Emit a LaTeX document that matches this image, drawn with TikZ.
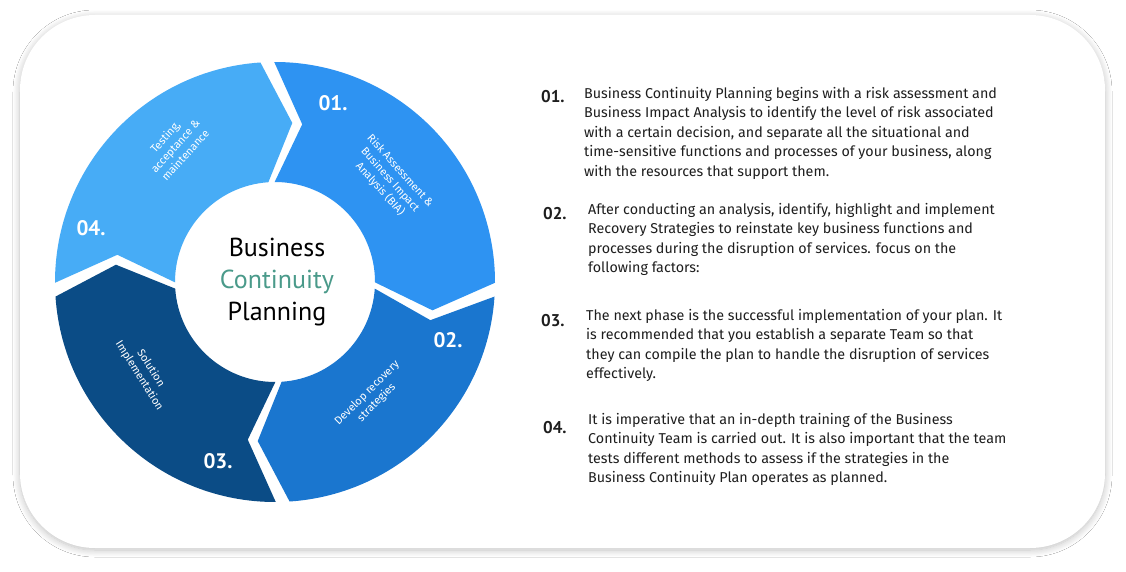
\documentclass[tikz,border=0pt]{standalone}
\usepackage{fontspec}
\setmainfont{Fira Sans}
\newfontfamily\ptsans{PT Sans}
\usetikzlibrary{shadows.blur}
\definecolor{cA}{HTML}{2E93F2}
\definecolor{cB}{HTML}{1A76CF}
\definecolor{cC}{HTML}{0B4C86}
\definecolor{cD}{HTML}{47ACF6}
\definecolor{teal}{HTML}{4A9A8A}
\definecolor{txt}{HTML}{1E1E1E}
\tikzset{
  num/.style={font=\ptsans\fontsize{21}{21}\selectfont\bfseries, text=white, inner sep=0},
  lbl/.style={font=\fontsize{11}{13.5}\selectfont, text=white, align=center, inner sep=0},
  rnum/.style={font=\ptsans\fontsize{17}{17}\selectfont\bfseries, text=txt, anchor=north west, inner sep=0},
  body/.style={font=\fontsize{14.3}{19.5}\selectfont, text=txt, anchor=north west, align=left, inner sep=0},
}
\newcommand\segm[3]{%
  \fill[#3] ({#1-1.8}:220) arc[start angle={#1-1.8}, end angle={#2+1.8}, radius=220]
    -- ({#2+1.8-10}:160) -- ({#2+1.8}:100)
    arc[start angle={#2+1.8}, end angle={#1-1.8}, radius=100]
    -- ({#1-1.8-10}:160) -- cycle;}
\begin{document}
\begin{tikzpicture}[x=1pt,y=-1pt]
\useasboundingbox (0,0) rectangle (1126,572);
\fill[white] (0,0) rectangle (1126,572);
\node[draw=none, fill=white, rounded corners=75pt, minimum width=1085pt, minimum height=533pt,
  blur shadow={shadow blur steps=12, shadow xshift=0pt, shadow yshift=-2pt, shadow blur radius=7pt, shadow opacity=25}]
  (card) at (562.5,281.5) {};
\begin{scope}[shift={(275,282)}, yscale=-1]
  \segm{92}{-2}{cA}
  \segm{-2}{-88}{cB}
  \segm{-88}{-178}{cC}
  \segm{182}{92}{cD}
\end{scope}
\node[num] (n1) at (333,103) {01.};
\node[num] (n2) at (448,340) {02.};
\node[num] (n3) at (218,461) {03.};
\node[num] (n4) at (91,228) {04.};
\node[lbl, rotate=-48] (l1) at (390,180) {Risk Assessment \&\\Business Impact\\Analysis (BIA)};
\node[lbl, rotate=45] (l2) at (372,398) {Develop recovery\\strategies};
\node[lbl, rotate=-58] (l3) at (145,372) {Solution\\Implementation};
\node[lbl, rotate=48] (l4) at (175,146) {Testing,\\acceptance \&\\maintenance};
\node[font=\ptsans\fontsize{26}{32}\selectfont, align=center, inner sep=0] (ctr) at (277,282)
  {Business\\\textcolor{teal}{Continuity}\\Planning};
\node[rnum] (r1) at (541,90) {01.};
\node[body] (b1) at (584,87) {Business Continuity Planning begins with a risk assessment and\\Business Impact Analysis to identify the level of risk associated\\with a certain decision, and separate all the situational and\\time-sensitive functions and processes of your business, along\\with the resources that support them.};
\node[rnum] (r2) at (543,207) {02.};
\node[body] (b2) at (588,203) {After conducting an analysis, identify, highlight and implement\\Recovery Strategies to reinstate key business functions and\\processes during the disruption of services. focus on the\\following factors:};
\node[rnum] (r3) at (541,314) {03.};
\node[body] (b3) at (586,309) {The next phase is the successful implementation of your plan. It\\is recommended that you establish a separate Team so that\\they can compile the plan to handle the disruption of services\\effectively.};
\node[rnum] (r4) at (543,421) {04.};
\node[body] (b4) at (588,413) {It is imperative that an in-depth training of the Business\\Continuity Team is carried out. It is also important that the team\\tests different methods to assess if the strategies in the\\Business Continuity Plan operates as planned.};
\end{tikzpicture}
\end{document}
